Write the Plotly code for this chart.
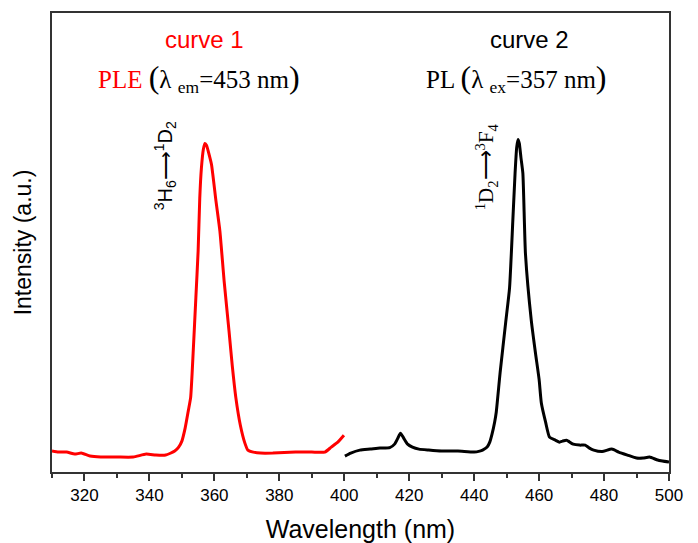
import plotly.graph_objects as go

# Curve 1 (PLE, red) — wavelength (nm) and intensity (a.u.)
ple_wl = [310, 312, 314.5, 317, 319, 321.7, 325, 330, 335, 339, 342, 345, 347.8,
          349, 350, 351, 352, 352.7, 353.5, 354.3, 355, 355.5, 356, 356.6, 357.1,
          357.6, 358.2, 359.1, 360.5, 361.7, 363, 364.5, 365.5, 366.6, 368, 369.4,
          370.3, 372, 374.2, 378, 385, 390, 394, 396, 398, 399.9]
ple_int = [21, 20, 20, 18, 19, 16, 15, 15, 15, 18, 17, 17, 21,
           25, 31, 44, 62, 75, 122, 175, 222, 275, 305, 324, 330,
           328, 321, 309, 272, 242, 192, 142, 107, 75, 47, 29,
           22, 20, 19, 19, 20, 20, 20, 25, 30, 37]

# Curve 2 (PL, black)
pl_wl = [400.2, 402, 404.8, 408, 411, 414, 415.5, 416.5, 417.3, 418.3, 419.5, 421,
         423, 426, 430, 435, 440, 441.7, 442.6, 444, 444.8, 445.5, 446.3, 446.8,
         448, 449.7, 450.9, 451.9, 452.6, 453.1, 453.5, 453.9, 454.4, 455, 455.8,
         457.6, 458.9, 460, 460.7, 462, 463.2, 465, 466.3, 467.2, 468.4, 469, 470.5,
         472.5, 474.2, 475.5, 476.8, 479.4, 482.4, 484.5, 487.2, 490, 492, 494,
         496.5, 498, 500]
pl_int = [16, 19, 22, 23, 24, 24.5, 28, 34, 39, 34, 28, 25,
          23, 22, 21, 21, 20, 21, 22, 25, 30, 38, 50, 60,
          100, 150, 185, 252, 300, 326, 334, 330, 316, 300, 219,
          152, 119, 93, 69, 50, 35, 32, 30, 31, 32, 31, 28,
          27, 27, 24, 22, 20.5, 23, 20, 17, 14, 14, 15,
          12, 11, 10]

x_ticks = [320, 340, 360, 380, 400, 420, 440, 460, 480, 500]

fig = go.Figure()
fig.add_trace(go.Scatter(x=ple_wl, y=ple_int, mode="lines",
                         line=dict(color="#ff0000", width=3, shape="spline",
                                   smoothing=0.5),
                         showlegend=False))
fig.add_trace(go.Scatter(x=pl_wl, y=pl_int, mode="lines",
                         line=dict(color="#000000", width=3, shape="spline",
                                   smoothing=0.5),
                         showlegend=False))

sans = "Liberation Sans, Arial, sans-serif"
serif = "Liberation Serif, Times New Roman, serif"
PAR = "<span style='font-size:32px'>%s</span>"

# positions below are in reference-image pixels
ann = []
ann.append(dict(x=204, y=38, text="curve 1",
                font=dict(family=sans, size=24, color="#ff0000")))
ann.append(dict(x=529, y=38, text="curve 2",
                font=dict(family=sans, size=24, color="#000000")))
ann.append(dict(x=199, y=76,
                text="<span style='color:#ff0000'>PLE</span> " + PAR % "(" +
                     "λ <sub>em</sub>=453 nm" + PAR % ")",
                font=dict(family=serif, size=25, color="#000000")))
ann.append(dict(x=516, y=76,
                text="PL " + PAR % "(" + "λ <sub>ex</sub>=357 nm" + PAR % ")",
                font=dict(family=serif, size=25, color="#000000")))
ann.append(dict(x=165, y=165, textangle=-90,
                text="<sup>3</sup>H<sub>6</sub>⟶<sup>1</sup>D<sub>2</sub>",
                font=dict(family=sans, size=20, color="#000000")))
ann.append(dict(x=486, y=166, textangle=-90,
                text="<sup>1</sup>D<sub>2</sub>⟶<sup>3</sup>F<sub>4</sub>",
                font=dict(family=serif, size=21, color="#000000")))

OFF = 8  # page body margin
W, H = 698, 543
L0, R0, T0, B0 = 52, 669, 11, 472   # plot area in reference pixels
L, T = L0 - OFF, T0 - OFF
R = W - (R0 - OFF)
B = H - (B0 - OFF)
pw, ph = R0 - L0, B0 - T0
for a in ann:
    a["xref"] = "paper"
    a["yref"] = "paper"
    a["x"] = (a["x"] - L0) / pw
    a["y"] = 1 - (a["y"] - T0) / ph
    a["xanchor"] = "center"
    a["yanchor"] = "middle"
    a["showarrow"] = False

fig.update_layout(
    width=W, height=H,
    margin=dict(l=L, r=R, t=T, b=B),
    paper_bgcolor="white", plot_bgcolor="white",
    annotations=ann,
    xaxis=dict(range=[310, 500], tickvals=x_ticks, ticks="outside", ticklen=7,
               tickwidth=1.5, tickcolor="#333333", ticklabelstandoff=0,
               minor=dict(dtick=10, tick0=310, ticks="outside", ticklen=4,
                          tickwidth=1.5, tickcolor="#333333"),
               showline=True, linecolor="#333333", linewidth=1.5, mirror=True,
               showgrid=False, zeroline=False,
               tickfont=dict(family=sans, size=17, color="#000000"),
               title=dict(text="Wavelength (nm)", standoff=16,
                          font=dict(family=sans, size=25, color="#000000"))),
    yaxis=dict(range=[0, 461], showticklabels=False, ticks="",
               showline=True, linecolor="#333333", linewidth=1.5, mirror=True,
               showgrid=False, zeroline=False,
               title=dict(text="Intensity (a.u.)", standoff=12,
                          font=dict(family=sans, size=23, color="#000000"))),
)

fig.write_html("out.html")
